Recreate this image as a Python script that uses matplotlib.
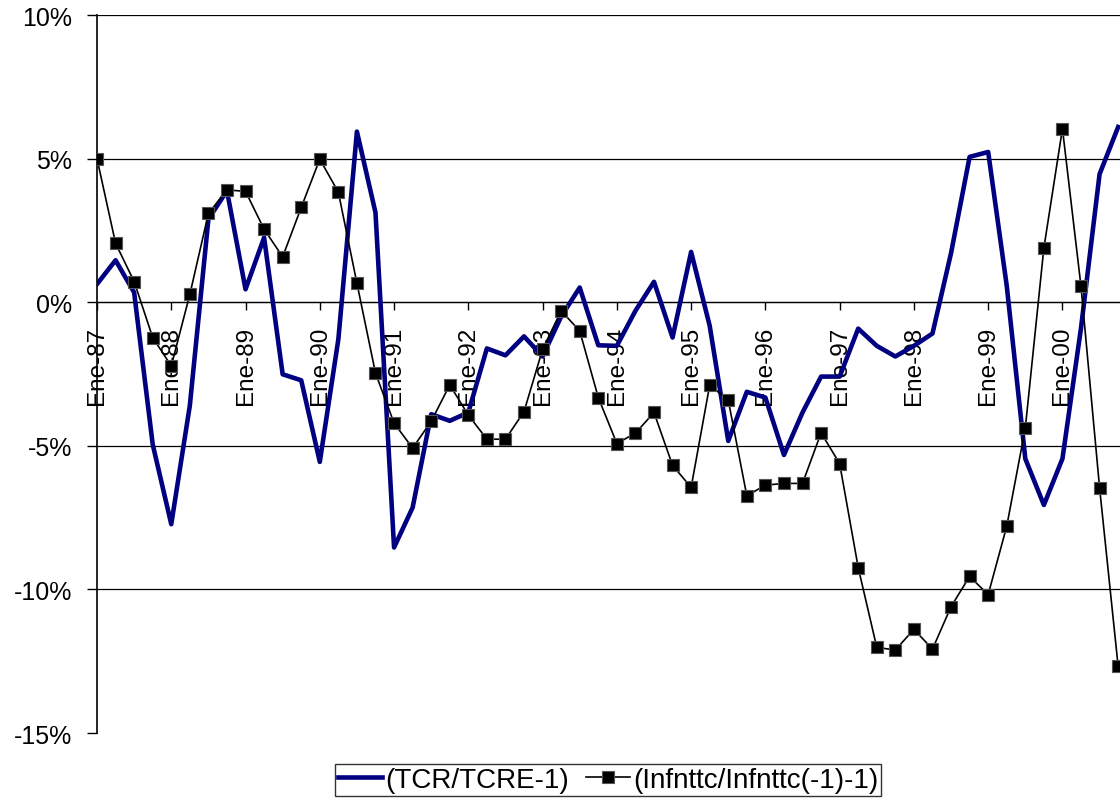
import numpy as np
import matplotlib
matplotlib.use("Agg")
import matplotlib.pyplot as plt
from matplotlib.ticker import FuncFormatter

plt.rcParams['font.family'] = ['Liberation Sans', 'DejaVu Sans']

# quarterly data, Ene-87 .. Oct-00 (percent)
tcr = [0.63, 1.46, 0.34, -4.95, -7.73, -3.6, 2.89, 3.88, 0.45, 2.25,
       -2.51, -2.72, -5.56, -1.29, 5.94, 3.12, -8.54, -7.15, -3.9, -4.13,
       -3.84, -1.61, -1.85, -1.19, -1.89, -0.5, 0.51, -1.5, -1.52, -0.3,
       0.71, -1.23, 1.75, -0.82, -4.83, -3.12, -3.32, -5.32, -3.84, -2.59,
       -2.59, -0.92, -1.52, -1.89, -1.52, -1.09, 1.71, 5.06, 5.23, 0.57,
       -5.45, -7.06, -5.45, -0.9, 4.46, 6.1]
infl = [5.0, 2.05, 0.72, -1.23, -2.22, 0.27, 3.09, 3.91, 3.86, 2.54,
        1.58, 3.30, 4.98, 3.83, 0.66, -2.47, -4.21, -5.08, -4.15, -2.88,
        -3.93, -4.77, -4.77, -3.81, -1.64, -0.30, -1.0, -3.32, -4.92, -4.56,
        -3.84, -5.68, -6.45, -2.89, -3.41, -6.74, -6.37, -6.31, -6.31, -4.55,
        -5.62, -9.24, -12.02, -12.11, -11.39, -12.08, -10.6, -9.55, -10.18, -7.8,
        -4.38, 1.89, 6.04, 0.55, -6.46, -12.68]
year_labels = ['Ene-87', 'Ene-88', 'Ene-89', 'Ene-90', 'Ene-91', 'Ene-92', 'Ene-93',
               'Ene-94', 'Ene-95', 'Ene-96', 'Ene-97', 'Ene-98', 'Ene-99', 'Ene-00']
y_ticks = [10, 5, 0, -5, -10, -15]

x = np.arange(len(tcr))

fig = plt.figure(figsize=(11.2, 8.03), dpi=100)
ax = fig.add_axes([97/1120, 69/803, 1 - 97/1120, 718/803])
ax.spines['bottom'].set_position(('data', 0))

# gridlines (no line at the bottom -15%)
for v in y_ticks[:-1]:
    ax.axhline(v, color='black', lw=0.9, zorder=1)

ax.plot(x, tcr, color='#000080', lw=3.3, zorder=3, label='(TCR/TCRE-1)')
ax.plot(x, infl, color='black', lw=1.2, marker='s', ms=8.5,
        mfc='black', mec='#555555', mew=0.8, zorder=4,
        label='(Infnttc/Infnttc(-1)-1)')

ax.set_xlim(0, 55.1)
ax.set_ylim(-15, 10)
ax.set_yticks(y_ticks)
ax.yaxis.set_major_formatter(FuncFormatter(lambda v, p: f'{v:.0f}%'))
ax.set_xticks(x[::4])
ax.set_xticklabels(year_labels)

ax.spines['top'].set_visible(False)
ax.spines['right'].set_visible(False)
ax.spines['left'].set_linewidth(1.2)
ax.spines['bottom'].set_linewidth(0.9)
ax.tick_params(axis='y', length=7, width=1, pad=11, labelsize=18)
ax.tick_params(axis='x', length=6, width=1, pad=11, labelsize=17.5,
               labelrotation=90)

leg = fig.legend(loc='center', bbox_to_anchor=(608/1120, 1 - 781/803), ncol=2,
                 fontsize=20, frameon=True, fancybox=False, edgecolor='black',
                 handlelength=1.6, handletextpad=0.1, columnspacing=0.6,
                 borderpad=0.1, borderaxespad=0)
leg.get_frame().set_linewidth(1.0)

fig.savefig('out.png', dpi=100)
